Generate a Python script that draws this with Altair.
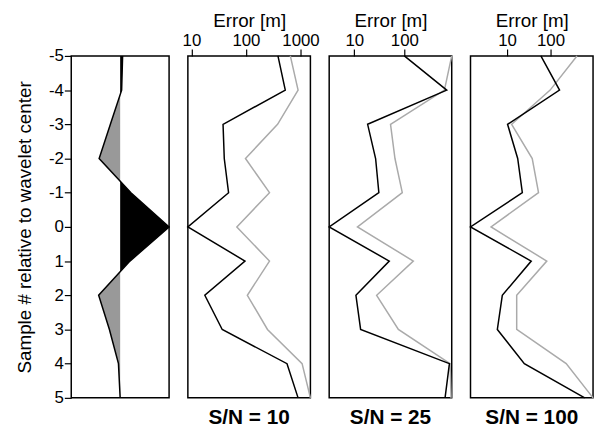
import altair as alt
import pandas as pd

samples = [-5, -4, -3, -2, -1, 0, 1, 2, 3, 4, 5]
wavelet = [0.05, 0.03, -0.2, -0.43, 0.22, 1.0, 0.2, -0.44, -0.22, -0.035, 0.0]

sn_labels = ["S/N = 10", "S/N = 25", "S/N = 100"]
err_black = [
    [386, 526, 38, 40, 48, 8.6, 96, 17.6, 36.7, 566, 903],
    [100, 701, 18.5, 26.7, 31, 3.16, 50, 10.8, 13.4, 794, 650],
    [60, 161, 10.3, 17.6, 22.5, 1.45, 36, 7.8, 6.0, 25, 610],
]
err_gray = [
    [651, 903, 380, 98, 270, 68, 270, 106, 248, 1070, 1520],
    [883, 631, 53, 65, 91, 11.6, 151, 28, 76, 818, 857],
    [405, 98, 12.8, 38, 53, 4.3, 82, 16.7, 16.7, 229, 948],
]
tick_values = [10, 100, 1000]

FONT = "Liberation Sans"
H = 346
LABEL_FS = 17
TITLE_FS = 19

# --- wavelet panel: split fill into positive / negative parts at zero crossings
def split_fill(ys, vs):
    pts = []
    for i in range(len(ys)):
        pts.append((ys[i], vs[i]))
        if i < len(ys) - 1:
            a, b = vs[i], vs[i + 1]
            if a * b < 0:
                t = a / (a - b)
                pts.append((ys[i] + t * (ys[i + 1] - ys[i]), 0.0))
    return pd.DataFrame({
        "sample": [p[0] for p in pts],
        "pos": [max(p[1], 0.0) for p in pts],
        "neg": [min(p[1], 0.0) for p in pts],
    })

fill_df = split_fill(samples, wavelet)
wav_df = pd.DataFrame({"sample": samples, "value": wavelet})

yscale = alt.Scale(domain=[-5, 5], reverse=True, nice=False)
xw = alt.Scale(domain=[-1, 1], nice=False)

y_axis = alt.Axis(title="Sample # relative to wavelet center", values=samples,
                  labelExpr="'' + datum.value",
                  tickSize=7, labelFontSize=LABEL_FS, titleFontSize=TITLE_FS,
                  titleFontWeight="normal", domain=False, grid=False,
                  tickColor="black", labelColor="black", titleColor="black",
                  tickWidth=1.2, labelOverlap=False, labelFlush=False,
                  labelPadding=1, titlePadding=14)

neg_area = alt.Chart(fill_df).mark_area(orient="horizontal", color="#999999").encode(
    y=alt.Y("sample:Q", scale=yscale, axis=y_axis),
    x=alt.X("neg:Q", scale=xw, axis=None),
    x2=alt.datum(0),
)
pos_area = alt.Chart(fill_df).mark_area(orient="horizontal", color="black").encode(
    y=alt.Y("sample:Q", scale=yscale, axis=y_axis),
    x=alt.X("pos:Q", scale=xw, axis=None),
    x2=alt.datum(0),
)
wav_line = alt.Chart(wav_df).mark_line(color="black", strokeWidth=1.5).encode(
    y=alt.Y("sample:Q", scale=yscale, axis=y_axis),
    x=alt.X("value:Q", scale=xw, axis=None),
    order="sample:Q",
)
panel1 = alt.layer(neg_area, pos_area, wav_line).properties(width=99, height=H)

panels = [panel1]
for k in range(3):
    rows = []
    for s, g in zip(samples, err_gray[k]):
        rows.append({"sample": s, "err": g, "series": "gray"})
    for s, b in zip(samples, err_black[k]):
        rows.append({"sample": s, "err": b, "series": "black"})
    df = pd.DataFrame(rows)
    p = alt.Chart(df).mark_line(strokeWidth=1.5).encode(
        y=alt.Y("sample:Q", scale=yscale, axis=None),
        x=alt.X("err:Q", scale=alt.Scale(type="log", nice=False, zero=False),
                axis=alt.Axis(orient="top", title="Error [m]", values=tick_values,
                              format="d", tickSize=7, labelFontSize=LABEL_FS,
                              titleFontSize=TITLE_FS, titleFontWeight="normal",
                              domain=False, grid=False, tickColor="black",
                              tickWidth=1.2,
                              labelColor="black", titleColor="black",
                              labelPadding=0, titlePadding=1, labelFlush=False,
                              labelOverlap=False)),
        color=alt.Color("series:N", scale=alt.Scale(domain=["black", "gray"],
                                                     range=["#000000", "#aaaaaa"]),
                        legend=None),
        detail="series:N",
        order="sample:Q",
    ).properties(
        width=124, height=H,
        title=alt.TitleParams(sn_labels[k], orient="bottom", fontSize=21,
                              fontWeight="bold", offset=6, color="black"),
    )
    panels.append(p)

chart = alt.hconcat(*panels, spacing=19, bounds="flush").properties(
    padding={"left": 7, "top": 0, "right": 0, "bottom": -4}
).configure(font=FONT).configure_view(
    stroke="black", strokeWidth=1.5
)

chart.save("out.html", embed_options={"renderer": "svg", "actions": False})
